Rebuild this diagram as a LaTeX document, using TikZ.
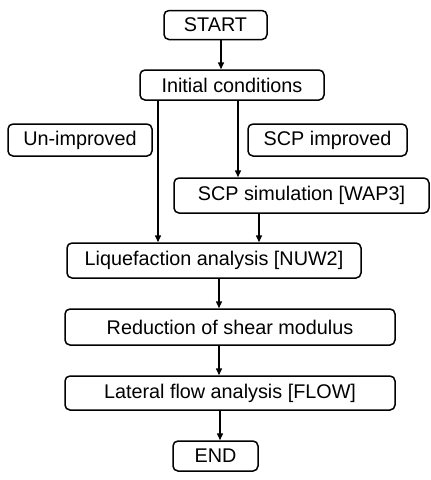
\documentclass[tikz,border=0pt]{standalone}
\usepackage{fontspec}
\setmainfont{Liberation Sans}
\usetikzlibrary{arrows.meta}
\begin{document}
\begin{tikzpicture}[x=1pt,y=-1pt,
  box/.style={draw, line width=1.5pt, rounded corners=5pt, inner sep=0pt, font=\fontsize{19.8}{22}\selectfont},
  conn/.style={line width=1.5pt, -{Triangle[length=7pt,width=6pt]}}]
\useasboundingbox (0,0) rectangle (431,480);
\node[box, minimum width=103pt, minimum height=29pt] (start) at (215.5,25) {START};
\node[box, minimum width=184pt, minimum height=30pt] (init) at (232,85) {Initial conditions};
\node[box, minimum width=144pt, minimum height=32pt] (unimp) at (80,140) {Un-improved};
\node[box, minimum width=159pt, minimum height=32pt] (scpimp) at (327.5,140) {SCP improved};
\node[box, minimum width=255pt, minimum height=35pt] (scpsim) at (301.5,195.5) {SCP simulation [WAP3]};
\node[box, minimum width=294pt, minimum height=35pt] (liq) at (214,260.5) {Liquefaction analysis [NUW2]};
\node[box, minimum width=330pt, minimum height=36pt] (red) at (230,327) {Reduction of shear modulus};
\node[box, minimum width=330pt, minimum height=34pt] (lat) at (230,393) {Lateral flow analysis [FLOW]};
\node[box, minimum width=85pt, minimum height=30pt] (end) at (215.5,456) {END};
\draw[conn] (start.south -| 221,0) -- (init.north -| 221,0);
\draw[conn] (init.south -| 158,0) -- (liq.north -| 158,0);
\draw[conn] (init.south -| 238,0) -- (scpsim.north -| 238,0);
\draw[conn] (scpsim.south -| 259,0) -- (liq.north -| 259,0);
\draw[conn] (liq.south -| 219,0) -- (red.north -| 219,0);
\draw[conn] (red.south -| 219,0) -- (lat.north -| 219,0);
\draw[conn] (lat.south -| 220,0) -- (end.north -| 220,0);
\end{tikzpicture}
\end{document}
